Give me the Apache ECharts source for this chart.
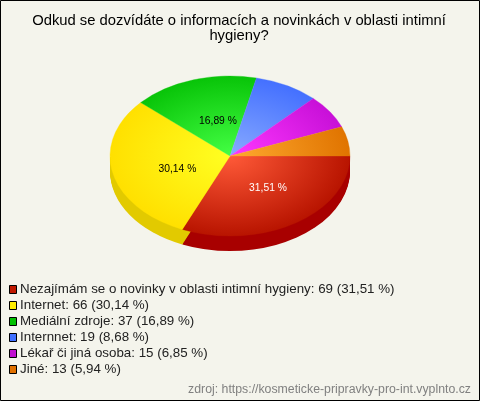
<!DOCTYPE html>
<html><head><meta charset="utf-8">
<style>html,body{margin:0;padding:0;background:#f4f4ec}#c{width:480px;height:401px}</style>
<script src="https://cdn.jsdelivr.net/npm/echarts@6/dist/echarts.min.js"></script>
</head><body><div id="c"></div>
<script>
const categories = ['Nezajímám se o novinky v oblasti intimní hygieny','Internet','Mediální zdroje','Internnet','Lékař či jiná osoba','Jiné'];
const values = [69,66,37,19,15,13];
const percents = ['31,51','30,14','16,89','8,68','6,85','5,94'];
const showLabel = [true,true,true,false,false,false];
const legendColors = ['#c01800','#ffee00','#00c000','#4070ff','#c010d0','#e07000'];
const innerColors = ['#ff5a38','#ffff22','#44ff44','#88aaff','#ff38ff','#ffaa30'];
const outerColors = ['#b81400','#ffe000','#08c408','#4470ff','#c810d8','#e07400'];
const wallColors = ['#a80000','#e2ca00','#008000','#2040c0','#900090','#b05000'];
const labelColors = ['#fff','#000','#000','#000','#000','#000'];
const labelNudge = [[9,3],[-1,5.5],[4,-1],[0,0],[0,0],[0,0]];

const CX=230, CY=156, RX=120, RY=80, DEPTH=15, SY=RY/RX;
const total = values.reduce((a,b)=>a+b,0);
const fullText = i => categories[i]+': '+values[i]+' ('+percents[i]+' %)';

const chart = echarts.init(document.getElementById('c'),null,{renderer:'canvas'});
let cum = 0;
const series = values.map((v,i)=>{
  const a0 = cum/total*Math.PI*2; cum += v; const a1 = cum/total*Math.PI*2;
  return {
    type:'custom', name:fullText(i), coordinateSystem:'none', animation:false, silent:true,
    itemStyle:{color:legendColors[i]},
    data:[[v]],
    renderItem(){
      const fill = {type:'radial',x:0,y:0,r:RX,global:true,colorStops:[{offset:0,color:innerColors[i]},{offset:1,color:outerColors[i]}]};
      const children = [];
      const ws = Math.max(a0,0), we = Math.min(a1,Math.PI);
      if (we>ws) for (let d=1;d<=DEPTH;d++) children.push({type:'sector',z2:1,
        shape:{cx:0,cy:d/SY,r:RX,r0:0,startAngle:ws,endAngle:we},style:{fill:wallColors[i]}});
      children.push({type:'sector',z2:5,shape:{cx:0,cy:0,r:RX,r0:0,startAngle:a0,endAngle:a1},
        style:{fill:fill,stroke:fill,lineWidth:0.4}});
      const elems = [{type:'group',x:CX,y:CY,scaleY:SY,children}];
      if (showLabel[i]) {
        const m=(a0+a1)/2;
        elems.push({type:'text',z2:10,x:CX+0.44*RX*Math.cos(m)+labelNudge[i][0],y:CY+0.44*RY*Math.sin(m)+labelNudge[i][1],
          style:{text:percents[i]+' %',fill:labelColors[i],font:'10.3px "Liberation Sans"',align:'center',verticalAlign:'middle'}});
      }
      return {type:'group',children:elems};
    }
  };
});

chart.setOption({
  animation:false,
  backgroundColor:'#f4f4ec',
  title:{text:'Odkud se dozvídáte o informacích a novinkách v oblasti intimní\nhygieny?',left:234,top:8,textAlign:'center',
    textStyle:{fontFamily:'Liberation Sans',fontSize:14.8,fontWeight:'normal',color:'#000',lineHeight:15}},
  legend:{orient:'vertical',left:9,top:283,itemWidth:7,itemHeight:8,itemGap:3,icon:'rect',selectedMode:false,
    padding:0,
    data:values.map((v,i)=>({name:fullText(i),itemStyle:{color:legendColors[i],borderColor:'#000',borderWidth:1}})),
    textStyle:{fontFamily:'Liberation Sans',fontSize:13.35,color:'#222',padding:[0,0,0,-1.5],lineHeight:13}},
  graphic:[
    {type:'rect',z:100,silent:true,shape:{x:0.5,y:0.5,width:479,height:400},style:{fill:'none',stroke:'#000',lineWidth:1}},
    {type:'text',right:9,top:384,style:{text:'zdroj: https://kosmeticke-pripravky-pro-int.vyplnto.cz',fill:'#808080',font:'12.3px "Liberation Sans"'}}
  ],
  series
});
</script></body></html>
